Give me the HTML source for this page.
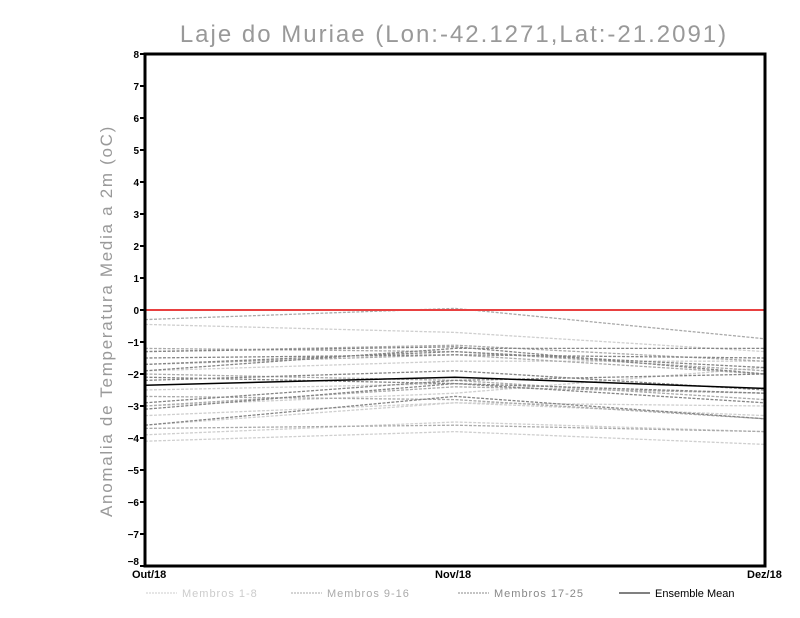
<!DOCTYPE html>
<html><head><meta charset="utf-8"><style>body{margin:0;background:#fff}svg{display:block}text{font-family:"Liberation Sans",sans-serif}</style></head>
<body>
<svg id="s" width="800" height="618" viewBox="0 0 800 618" xmlns="http://www.w3.org/2000/svg">
<rect width="800" height="618" fill="#fff"/>
<text x="454" y="42" font-size="24" fill="#999" text-anchor="middle" letter-spacing="2">Laje do Muriae (Lon:-42.1271,Lat:-21.2091)</text>
<text transform="translate(112,321) rotate(-90)" font-size="17" fill="#999" text-anchor="middle" letter-spacing="1.7">Anomalia de Temperatura Media a 2m (oC)</text>
<g id="lines"></g>
<line x1="145" y1="310" x2="765" y2="310" stroke="#e84040" stroke-width="2"/>
<rect x="145" y="54" width="620" height="512" fill="none" stroke="#000" stroke-width="3"/>
<g id="ticks" font-size="10" font-weight="bold" fill="#000"></g>
<text x="132" y="578" font-size="11" font-weight="bold">Out/18</text>
<text x="435" y="578" font-size="11" font-weight="bold">Nov/18</text>
<text x="747" y="578" font-size="11" font-weight="bold">Dez/18</text>
<g font-size="11">
<line x1="146" y1="593" x2="177" y2="593" stroke="#ccc" stroke-dasharray="2,1"/><text x="182" y="597" fill="#ccc" letter-spacing="1">Membros 1-8</text>
<line x1="291" y1="593" x2="322" y2="593" stroke="#aaa" stroke-dasharray="2,1"/><text x="327" y="597" fill="#aaa" letter-spacing="1">Membros 9-16</text>
<line x1="458" y1="593" x2="489" y2="593" stroke="#888" stroke-dasharray="2,1"/><text x="494" y="597" fill="#888" letter-spacing="1">Membros 17-25</text>
<line x1="619" y1="593" x2="650" y2="593" stroke="#000"/><text x="655" y="597" fill="#000">Ensemble Mean</text>
</g>
</svg>
<script>
var NS="http://www.w3.org/2000/svg";
function Y(v){return 310-32*v;}
var X=[145,455,765];
var sets=[["#cfcfcf",[[-0.45,-0.7,-1.3],[-4.1,-3.8,-4.2],[-3.6,-2.9,-3.3],[-3.0,-2.6,-1.8],[-3.9,-3.5,-3.8],[-2.5,-2.3,-2.6],[-1.9,-1.6,-1.6],[-3.3,-2.9,-3.0]]],
["#aaaaaa",[[-0.3,0.05,-0.9],[-1.3,-1.1,-1.6],[-1.7,-1.4,-2.0],[-2.0,-2.2,-2.8],[-3.7,-3.6,-3.8],[-3.0,-2.4,-2.6],[-2.7,-2.8,-3.4],[-1.2,-1.3,-1.9]]],
["#858585",[[-1.9,-1.2,-1.2],[-1.3,-1.15,-2.0],[-2.1,-2.3,-2.6],[-3.1,-2.3,-2.9],[-2.2,-1.9,-2.5],[-1.7,-1.3,-1.8],[-3.6,-2.7,-3.4],[-1.5,-1.4,-1.5],[-2.9,-2.2,-2.0]]]];
var g=document.getElementById("lines");
sets.forEach(function(s){s[1].forEach(function(a){var p=document.createElementNS(NS,"polyline");p.setAttribute("points",X.map(function(x,i){return x+","+Y(a[i]);}).join(" "));p.setAttribute("fill","none");p.setAttribute("stroke",s[0]);p.setAttribute("stroke-width","1.3");p.setAttribute("stroke-dasharray","3,1.5");g.appendChild(p);});});
var m=document.createElementNS(NS,"polyline");m.setAttribute("points",X.map(function(x,i){return x+","+Y([-2.35,-2.1,-2.45][i]);}).join(" "));m.setAttribute("fill","none");m.setAttribute("stroke","#000");m.setAttribute("stroke-width","1.5");g.appendChild(m);
var t=document.getElementById("ticks");
for(var v=-8;v<=8;v++){var y=Y(v);var l=document.createElementNS(NS,"line");l.setAttribute("x1",140);l.setAttribute("x2",145);l.setAttribute("y1",y);l.setAttribute("y2",y);l.setAttribute("stroke","#000");l.setAttribute("stroke-width","2");t.appendChild(l);
var tx=document.createElementNS(NS,"text");tx.setAttribute("x",139);tx.setAttribute("y",y+(v==-8?-1:4));tx.setAttribute("text-anchor","end");tx.textContent=(v<0?"\u2212":"")+Math.abs(v);t.appendChild(tx);}
</script>
</body></html>
